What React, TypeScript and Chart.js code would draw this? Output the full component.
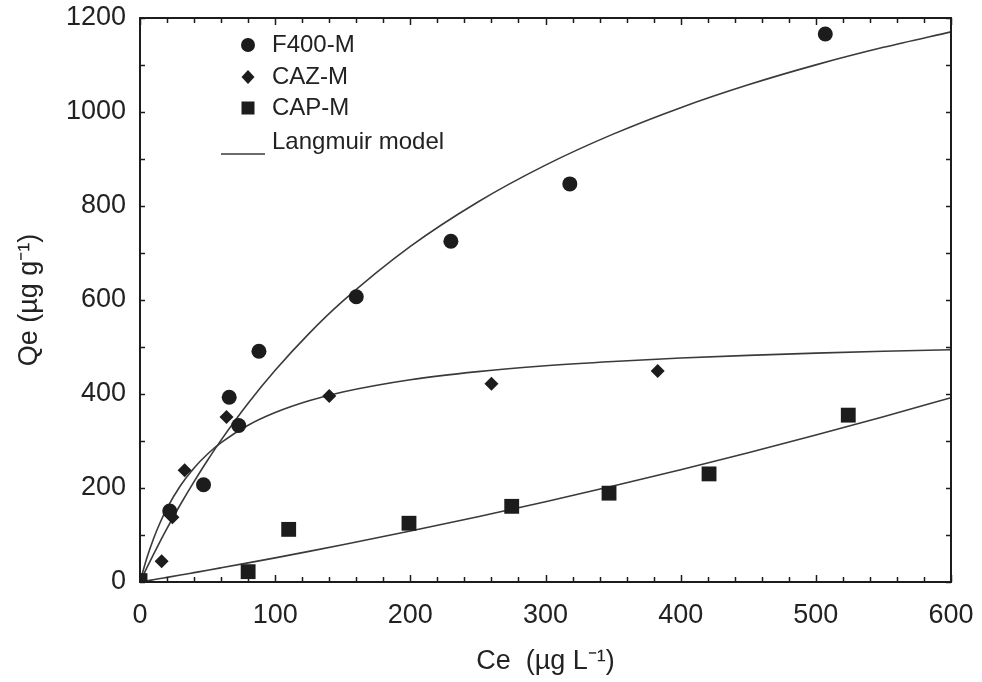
import React, { useEffect, useRef } from "react";
import { Chart, registerables } from "chart.js";

Chart.register(...registerables);

// ---- Data ----
const f400Ce = [22, 47, 66, 73, 88, 160, 230, 318, 507];
const f400Qe = [151, 207, 393, 333, 491, 607, 725, 847, 1166];

const cazCe = [16, 24, 33, 64, 140, 260, 383];
const cazQe = [44, 138, 238, 351, 396, 422, 449];

const capCe = [0, 80, 110, 199, 275, 347, 421, 524];
const capQe = [3, 22, 112, 125, 161, 189, 230, 355];

// Langmuir model curves
const modelCe = [0, 5, 10, 15, 20, 30, 40, 50, 60, 80, 100, 125, 150, 200, 250, 300, 350, 400, 450, 500, 550, 600];
const f400Model = [0, 30, 58.9, 86.9, 113.9, 165.4, 213.7, 259.1, 301.9, 380.2, 450.4, 528.5, 597.4, 714.0, 808.6, 887.0, 952.9, 1009.3, 1057.9, 1100.3, 1137.6, 1170.6];
const cazModel = [0, 50.4, 92.1, 127.1, 157.0, 205.3, 242.6, 272.3, 296.5, 333.6, 360.6, 385.6, 404.3, 430.4, 447.7, 460.1, 469.3, 476.5, 482.2, 486.9, 490.8, 494.1];
const capModel = [0, 2.4, 4.9, 7.4, 9.8, 14.8, 19.9, 25.0, 30.2, 40.7, 51.4, 65.1, 79.2, 108.4, 138.9, 170.9, 204.3, 239.0, 275.2, 312.8, 351.7, 392.0];

const legendLabels = ["F400-M", "CAZ-M", "CAP-M", "Langmuir model"];
const xTitle = "Ce  (\u00b5g L\u207b\u00b9)";
const yTitle = "Qe (\u00b5g g\u207b\u00b9)";

const X_MIN = 0, X_MAX = 600, X_STEP = 100, X_MINOR = 20;
const Y_MIN = 0, Y_MAX = 1200, Y_STEP = 200, Y_MINOR = 100;

const FONT = "'Liberation Sans', Arial, Helvetica, sans-serif";
const INK = "#1c1c1c";
const LINE = "#3a3a3a";

const pts = (xs: number[], ys: number[]) => xs.map((x, i) => ({ x, y: ys[i] }));

const framePlugin = {
  id: "frameTicks",
  afterDatasetsDraw(chart: any) {
    const { ctx, chartArea: a, scales } = chart;
    const xs = scales.x, ys = scales.y;
    ctx.save();
    ctx.strokeStyle = INK;
    ctx.lineWidth = 1.5;
    ctx.beginPath();
    for (let v = X_MIN; v <= X_MAX; v += X_MINOR) {
      const px = Math.round(xs.getPixelForValue(v)) + 0.5;
      const len = v % X_STEP === 0 ? 7 : 5;
      ctx.moveTo(px, a.bottom);
      ctx.lineTo(px, a.bottom - len);
      ctx.moveTo(px, a.top);
      ctx.lineTo(px, a.top + len);
    }
    for (let v = Y_MIN; v <= Y_MAX; v += Y_MINOR) {
      const py = Math.round(ys.getPixelForValue(v)) + 0.5;
      ctx.moveTo(a.left, py);
      ctx.lineTo(a.left + 5, py);
      ctx.moveTo(a.right, py);
      ctx.lineTo(a.right - 5, py);
    }
    ctx.stroke();
    ctx.lineWidth = 2;
    ctx.strokeRect(a.left, a.top, a.right - a.left, a.bottom - a.top);
    ctx.restore();
  },
};

const legendPlugin = {
  id: "insideLegend",
  afterDraw(chart: any) {
    const { ctx, chartArea: a } = chart;
    const mx = a.left + 108;
    const tx = a.left + 132;
    const rows = [a.top + 27, a.top + 59, a.top + 90, a.top + 124];
    ctx.save();
    ctx.fillStyle = INK;
    ctx.beginPath();
    ctx.arc(mx, rows[0], 7, 0, Math.PI * 2);
    ctx.fill();
    ctx.beginPath();
    ctx.moveTo(mx, rows[1] - 7);
    ctx.lineTo(mx + 6.5, rows[1]);
    ctx.lineTo(mx, rows[1] + 7);
    ctx.lineTo(mx - 6.5, rows[1]);
    ctx.closePath();
    ctx.fill();
    ctx.fillRect(mx - 6.5, rows[2] - 6.5, 13, 13);
    ctx.strokeStyle = LINE;
    ctx.lineWidth = 1.5;
    ctx.beginPath();
    ctx.moveTo(mx - 27, rows[3] + 12);
    ctx.lineTo(mx + 17, rows[3] + 12);
    ctx.stroke();
    ctx.fillStyle = "#222";
    ctx.font = `24px ${FONT}`;
    ctx.textBaseline = "middle";
    ctx.textAlign = "left";
    legendLabels.forEach((t, i) => ctx.fillText(t, tx, rows[i]));
    ctx.restore();
  },
};

export default function App() {
  const canvasRef = useRef<HTMLCanvasElement | null>(null);

  useEffect(() => {
    if (!canvasRef.current) return;
    const pointStyle = {
      backgroundColor: INK,
      borderColor: INK,
      borderWidth: 0,
      showLine: false,
      order: 0,
    };
    const curveStyle = {
      showLine: true,
      borderColor: LINE,
      borderWidth: 1.6,
      pointRadius: 0,
      cubicInterpolationMode: "monotone" as const,
      fill: false,
      order: 1,
    };
    const chart = new Chart(canvasRef.current, {
      type: "scatter",
      data: {
        datasets: [
          { label: legendLabels[0], data: pts(f400Ce, f400Qe), pointStyle: "circle", pointRadius: 7.5, ...pointStyle },
          { label: legendLabels[1], data: pts(cazCe, cazQe), pointStyle: "rectRot", pointRadius: 7, ...pointStyle },
          { label: legendLabels[2], data: pts(capCe, capQe), pointStyle: "rect", pointRadius: 10.5, ...pointStyle },
          { label: "F400 model", data: pts(modelCe, f400Model), ...curveStyle },
          { label: "CAZ model", data: pts(modelCe, cazModel), ...curveStyle },
          { label: "CAP model", data: pts(modelCe, capModel), ...curveStyle },
        ] as any,
      },
      options: {
        responsive: false,
        devicePixelRatio: 1,
        animation: false,
        layout: { padding: { top: 18, right: 31, left: 0, bottom: 0 } },
        plugins: {
          legend: { display: false },
          tooltip: { enabled: false },
        },
        scales: {
          x: {
            type: "linear",
            min: X_MIN,
            max: X_MAX,
            grid: { display: false, drawTicks: false },
            border: { display: false },
            ticks: {
              stepSize: X_STEP,
              color: "#222",
              font: { family: FONT, size: 27 },
              padding: 17,
              maxRotation: 0,
              callback: (v: any) => String(v),
            },
            title: {
              display: true,
              text: xTitle,
              color: "#222",
              font: { family: FONT, size: 27 },
              padding: { top: 0, bottom: 4 },
            },
            afterFit: (s: any) => {
              s.height = 100;
              s.paddingLeft = 0;
              s.paddingRight = 0;
            },
          },
          y: {
            type: "linear",
            min: Y_MIN,
            max: Y_MAX,
            grid: { display: false, drawTicks: false },
            border: { display: false },
            ticks: {
              stepSize: Y_STEP,
              color: "#222",
              font: { family: FONT, size: 27 },
              padding: 14,
              callback: (v: any) => String(v),
            },
            title: {
              display: true,
              text: yTitle,
              color: "#222",
              font: { family: FONT, size: 27 },
              padding: { top: 13, bottom: 0 },
            },
            afterFit: (s: any) => {
              s.width = 140;
              s.paddingTop = 0;
              s.paddingBottom = 0;
            },
          },
        },
      },
      plugins: [framePlugin, legendPlugin],
    });
    return () => chart.destroy();
  }, []);

  return (
    <div style={{ position: "fixed", left: 0, top: 0, width: 982, height: 682, background: "#fff" }}>
      <canvas ref={canvasRef} width={982} height={682} style={{ display: "block" }} />
    </div>
  );
}
